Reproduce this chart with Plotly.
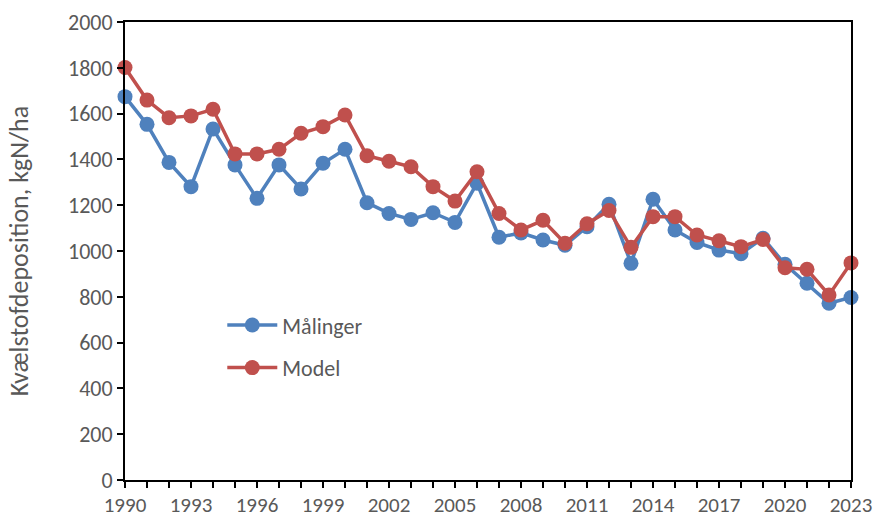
import plotly.graph_objects as go

years = list(range(1990, 2024))

maalinger = [1674, 1553, 1387, 1281, 1533, 1376, 1230, 1376, 1271, 1383,
             1444, 1211, 1164, 1138, 1167, 1125, 1296, 1060, 1079, 1048,
             1025, 1106, 1204, 946, 1226, 1092, 1037, 1004, 988, 1056,
             942, 859, 772, 797]

model = [1801, 1659, 1582, 1590, 1619, 1424, 1424, 1444, 1514, 1543,
         1594, 1416, 1392, 1368, 1281, 1218, 1346, 1164, 1092, 1134,
         1034, 1119, 1177, 1016, 1150, 1150, 1070, 1045, 1019, 1050,
         927, 920, 808, 948]

label_years = list(range(1990, 2024, 3))
y_ticks = list(range(0, 2001, 200))

BLUE = "#4F81BD"
RED = "#C0504D"
TXT = "#595959"
FONT = "Carlito, Lato, Open Sans, sans-serif"

fig = go.Figure()
fig.add_trace(go.Scatter(
    x=years, y=maalinger, name="Målinger", mode="lines+markers",
    line=dict(color=BLUE, width=3.5), marker=dict(color=BLUE, size=15),
    cliponaxis=False, legend="legend", showlegend=True,
))
fig.add_trace(go.Scatter(
    x=years, y=model, name="Model", mode="lines+markers",
    line=dict(color=RED, width=3.5), marker=dict(color=RED, size=15),
    cliponaxis=False, legend="legend2", showlegend=True,
))

legend_style = dict(
    font=dict(family=FONT, size=22, color=TXT),
    bgcolor="rgba(0,0,0,0)", xanchor="left", yanchor="middle",
    itemwidth=50,
)

fig.update_layout(
    width=875, height=518,
    margin=dict(l=125, r=24, t=22, b=38, autoexpand=False),
    paper_bgcolor="white", plot_bgcolor="white",
    font=dict(family=FONT, size=22, color=TXT),
    showlegend=True,
    legend=dict(x=0.134, y=0.338, **legend_style),
    legend2=dict(x=0.134, y=0.245, **legend_style),
    xaxis=dict(
        range=[1990, 2023], automargin=False,
        tickmode="array", tickvals=label_years,
        ticktext=[str(y) for y in label_years],
        ticks="outside", ticklen=6, tickwidth=1.5, tickcolor="black",
        ticklabelstandoff=-1,
        minor=dict(tickmode="array", tickvals=years, ticks="outside",
                   ticklen=6, tickwidth=1.5, tickcolor="black"),
        showline=True, linecolor="black", linewidth=2, mirror=True,
        showgrid=False, zeroline=False,
        tickfont=dict(size=21, color=TXT),
    ),
    yaxis=dict(
        range=[0, 2000], automargin=False,
        tickmode="array", tickvals=y_ticks,
        ticks="outside", ticklen=6, tickwidth=1.5, tickcolor="black",
        showline=True, linecolor="black", linewidth=2, mirror=True,
        showgrid=False, zeroline=False,
        tickfont=dict(size=22, color=TXT),
        title=dict(text="Kvælstofdeposition, kgN/ha",
                   font=dict(size=26, color=TXT), standoff=32),
    ),
)

fig.write_html("out.html")
